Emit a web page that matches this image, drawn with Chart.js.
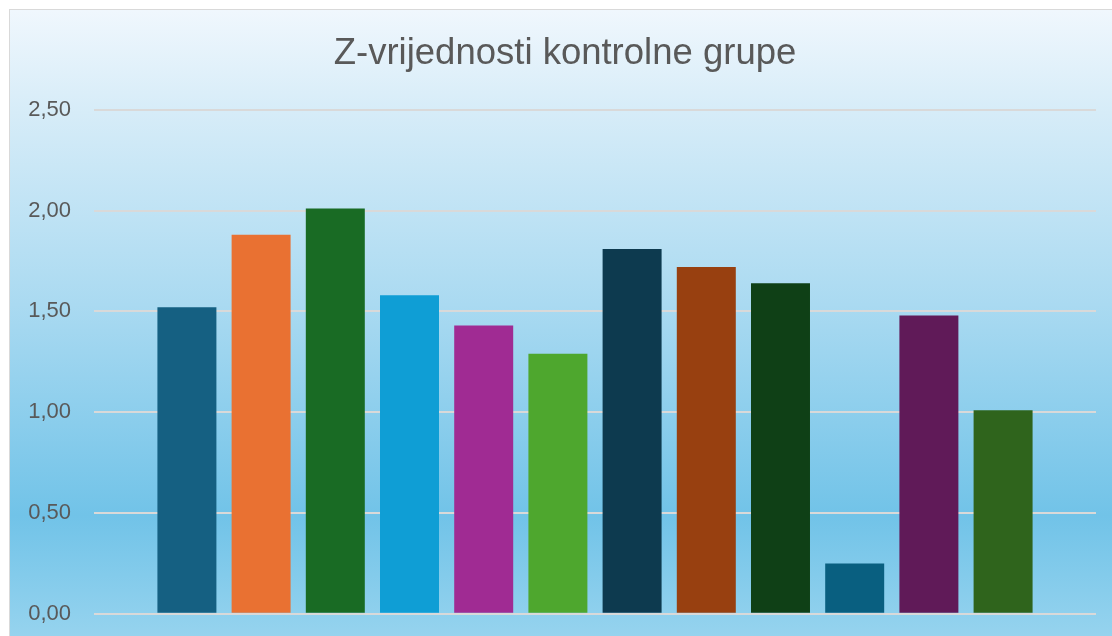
<!DOCTYPE html>
<html>
<head>
<meta charset="utf-8">
<script src="https://cdn.jsdelivr.net/npm/chart.js@4"></script>
<style>
  html, body { margin: 0; padding: 0; background: #fff; overflow: hidden; }
  #frame {
    position: absolute; left: 9px; top: 9px;
    width: 1110px; height: 640px;
    border: 1px solid #d9d9d9;
    background: linear-gradient(to bottom, #f0f7fd 0%, #d6ecf8 16%, #aadaf1 46%, #71c3e8 79%, #9ad5ef 100%);
  }
  #wrap { position: relative; width: 1110px; height: 640px; }
</style>
</head>
<body>
<div id="frame"><div id="wrap"><canvas id="myChart"></canvas></div></div>
<script>
var titleText = 'Z-vrijednosti kontrolne grupe';
var labels = [''];
var values = [1.52, 1.88, 2.01, 1.58, 1.43, 1.29, 1.81, 1.72, 1.64, 0.25, 1.48, 1.01];
var barColors = ['#156082', '#E97132', '#196B24', '#0F9ED5', '#A02B93', '#4EA72E',
                 '#0D3A4F', '#984010', '#0F4016', '#095F80', '#601A58', '#2F641C'];
var yTicks = [0, 0.5, 1, 1.5, 2, 2.5];

var ctx = document.getElementById('myChart').getContext('2d');

var datasets = values.map(function (v, i) {
	return {
		label: String(i + 1),
		data: [v],
		backgroundColor: barColors[i],
		borderWidth: 0,
		categoryPercentage: 0.8886,
		barPercentage: 0.795
	};
});

var chart = new Chart(ctx, {
	type: 'bar',
	data: {
		labels: labels,
		datasets: datasets
	},
	options: {
		responsive: true,
		maintainAspectRatio: false,
		animation: false,
		layout: { padding: { left: 0, right: 0, top: 0, bottom: 35 } },
		plugins: {
			legend: { display: false },
			tooltip: { enabled: false },
			title: {
				display: true,
				text: titleText,
				color: '#595959',
				font: { family: '"Liberation Sans", Arial, sans-serif', size: 36.5, weight: 'normal' },
				padding: { top: 22, bottom: 34 }
			}
		},
		scales: {
			x: { display: false, offset: true },
			y: {
				min: 0,
				max: 2.5,
				afterBuildTicks: function (scale) {
					scale.ticks = yTicks.map(function (v) { return { value: v }; });
				},
				afterFit: function (scale) { scale.width = 84; },
				border: { display: false },
				grid: { color: '#d9d9d9', lineWidth: 2, drawTicks: false },
				ticks: {
					padding: 23,
					color: '#595959',
					font: { family: '"Liberation Sans", Arial, sans-serif', size: 22 },
					callback: function (v) { return Number(v).toFixed(2).replace('.', ','); }
				}
			},
			// empty right axis only reserves the right margin
			yRight: {
				position: 'right',
				min: 0,
				max: 2.5,
				afterFit: function (scale) { scale.width = 24; },
				border: { display: false },
				grid: { display: false },
				ticks: { display: false }
			}
		}
	}
});
</script>
</body>
</html>
